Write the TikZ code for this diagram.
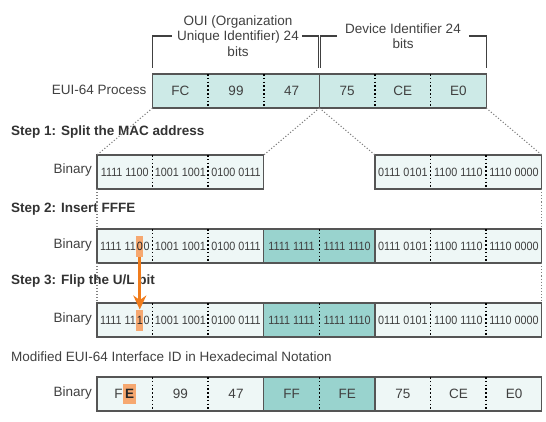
\documentclass[tikz,border=0pt]{standalone}
\usepackage{fontspec}
\setmainfont{Liberation Sans}
\newfontfamily\bitfam[FakeStretch=0.9]{Liberation Sans}
\usetikzlibrary{arrows.meta}
\definecolor{hexfill}{RGB}{205,234,231}
\definecolor{binfill}{RGB}{238,247,246}
\definecolor{fffefill}{RGB}{153,211,206}
\definecolor{framegray}{RGB}{85,85,85}
\definecolor{txtgray}{RGB}{64,64,64}
\definecolor{ulfill}{RGB}{246,168,112}
\definecolor{ulorange}{RGB}{240,124,28}
\newcommand{\lblfont}{\fontsize{13.5bp}{15.5bp}\selectfont}
\newcommand{\bitfont}{\bitfam\fontsize{12bp}{14bp}\selectfont}

\begin{document}
\begin{tikzpicture}[
    x=1bp, y=-1bp,
    cell/.style={minimum width=55.6bp, minimum height=34bp, inner sep=0pt, outer sep=0pt, text=txtgray},
    hexcell/.style={cell, font=\lblfont},
    bitcell/.style={cell, font=\bitfont},
    part/.style={inner sep=0pt, outer sep=0pt, text=txtgray},
    frame/.style={draw=framegray, line width=1.2bp},
    divider/.style={line width=1.5bp, dash pattern=on 1.5bp off 2.3bp},
    split/.style={draw=gray, line width=1.1bp, dash pattern=on 1.1bp off 2bp},
    lbl/.style={font=\lblfont, text=txtgray, inner sep=0pt},
    steplbl/.style={lbl, font=\lblfont\bfseries, text=black!80, anchor=west},
    rowlbl/.style={lbl, anchor=east},
    bracket/.style={draw=black!75, line width=1.2bp},
    ulbit/.style={fill=ulfill, inner xsep=0.5bp, inner ysep=0pt, outer sep=0pt, minimum height=21bp, text=black!85},
    flip/.style={draw=ulorange, line width=3.2bp, -{Stealth[length=14bp,width=13bp]}}
  ]
  \useasboundingbox (0,0) rectangle (546,421);

  % OUI / device brackets
  \node[lbl, align=center] (oui) at (238,36) {OUI (Organization\\Unique Identifier) 24\\bits};
  \node[lbl, align=center] (dev) at (403,36) {Device Identifier 24\\bits};

  % EUI-64 process row
  \node[hexcell, fill=hexfill] (t1) at (180.4,91) {FC};
  \node[hexcell, fill=hexfill] (t2) at (236.0,91) {99};
  \node[hexcell, fill=hexfill] (t3) at (291.6,91) {47};
  \node[hexcell, fill=hexfill] (t4) at (347.2,91) {75};
  \node[hexcell, fill=hexfill] (t5) at (402.8,91) {CE};
  \node[hexcell, fill=hexfill] (t6) at (458.4,91) {E0};
  \draw[frame] (t1.north west) rectangle (t6.south east);
  \draw[frame] (t3.north east) -- (t3.south east);
  \draw[divider] (t1.north east) -- (t1.south east);
  \draw[divider] (t2.north east) -- (t2.south east);
  \draw[divider] (t4.north east) -- (t4.south east);
  \draw[divider] (t5.north east) -- (t5.south east);
  \node[rowlbl] (lbl0) at ([xshift=-6bp,yshift=1.5bp]t1.west) {EUI-64 Process};

  \draw[bracket] ([xshift=-5bp]oui.west) -| ([yshift=6bp]t1.north west);
  \draw[bracket] ([xshift=3bp]oui.east) -| ([xshift=-1bp,yshift=6bp]t3.north east);
  \draw[bracket] ([xshift=-8bp]dev.west) -| ([xshift=1bp,yshift=6bp]t4.north west);
  \draw[bracket] ([xshift=8bp]dev.east) -| ([yshift=6bp]t6.north east);

  % step 1
  \node[steplbl] (s1) at (11,132) {Step 1: Split the MAC address};
  \node[bitcell, fill=binfill] (a1) at (124.8,172) {1111 1100};
  \node[bitcell, fill=binfill] (a2) at (180.4,172) {1001 1001};
  \node[bitcell, fill=binfill] (a3) at (236.0,172) {0100 0111};
  \node[bitcell, fill=binfill] (a6) at (402.8,172) {0111 0101};
  \node[bitcell, fill=binfill] (a7) at (458.4,172) {1100 1110};
  \node[bitcell, fill=binfill] (a8) at (514.0,172) {1110 0000};
  \draw[frame] (a1.north west) rectangle (a3.south east);
  \draw[frame] (a6.north west) rectangle (a8.south east);
  \draw[divider] (a1.north east) -- (a1.south east);
  \draw[divider] (a2.north east) -- (a2.south east);
  \draw[divider] (a6.north east) -- (a6.south east);
  \draw[divider] (a7.north east) -- (a7.south east);
  \node[rowlbl] (lbl1) at ([xshift=-5bp,yshift=1.5bp]a1.west) {Binary};

  % step 2
  \node[steplbl] (s2) at (11,209) {Step 2: Insert FFFE};
  \node[bitcell, fill=binfill] (b1) at (124.8,246) {};
  \node[bitcell, fill=binfill] (b2) at (180.4,246) {1001 1001};
  \node[bitcell, fill=binfill] (b3) at (236.0,246) {0100 0111};
  \node[bitcell, fill=fffefill] (b4) at (291.6,246) {1111 1111};
  \node[bitcell, fill=fffefill] (b5) at (347.2,246) {1111 1110};
  \node[bitcell, fill=binfill] (b6) at (402.8,246) {0111 0101};
  \node[bitcell, fill=binfill] (b7) at (458.4,246) {1100 1110};
  \node[bitcell, fill=binfill] (b8) at (514.0,246) {1110 0000};
  \draw[frame] (b1.north west) rectangle (b8.south east);
  \draw[frame] (b4.north west) rectangle (b5.south east);
  \draw[divider] (b1.north east) -- (b1.south east);
  \draw[divider] (b2.north east) -- (b2.south east);
  \draw[divider] (b4.north east) -- (b4.south east);
  \draw[divider] (b6.north east) -- (b6.south east);
  \draw[divider] (b7.north east) -- (b7.south east);
  \node[rowlbl] (lbl2) at ([xshift=-5bp,yshift=1.5bp]b1.west) {Binary};
  \node[ulbit, font=\bitfont] (ul2) at (139.8,246) {0};
  \node[part, font=\bitfont, anchor=east] (b1l) at ([xshift=-0.4bp]ul2.west) {1111 11};
  \node[part, font=\bitfont, anchor=west] (b1r) at ([xshift=0.4bp]ul2.east) {0};

  % step 3
  \node[steplbl] (s3) at (11,281) {Step 3: Flip the U/L bit};
  \node[bitcell, fill=binfill] (c1) at (124.8,320) {};
  \node[bitcell, fill=binfill] (c2) at (180.4,320) {1001 1001};
  \node[bitcell, fill=binfill] (c3) at (236.0,320) {0100 0111};
  \node[bitcell, fill=fffefill] (c4) at (291.6,320) {1111 1111};
  \node[bitcell, fill=fffefill] (c5) at (347.2,320) {1111 1110};
  \node[bitcell, fill=binfill] (c6) at (402.8,320) {0111 0101};
  \node[bitcell, fill=binfill] (c7) at (458.4,320) {1100 1110};
  \node[bitcell, fill=binfill] (c8) at (514.0,320) {1110 0000};
  \draw[frame] (c1.north west) rectangle (c8.south east);
  \draw[frame] (c4.north west) rectangle (c5.south east);
  \draw[divider] (c1.north east) -- (c1.south east);
  \draw[divider] (c2.north east) -- (c2.south east);
  \draw[divider] (c4.north east) -- (c4.south east);
  \draw[divider] (c6.north east) -- (c6.south east);
  \draw[divider] (c7.north east) -- (c7.south east);
  \node[rowlbl] (lbl3) at ([xshift=-5bp,yshift=1.5bp]c1.west) {Binary};
  \node[ulbit, font=\bitfont] (ul3) at (139.8,320) {1};
  \node[part, font=\bitfont, anchor=east] (c1l) at ([xshift=-0.4bp]ul3.west) {1111 11};
  \node[part, font=\bitfont, anchor=west] (c1r) at ([xshift=0.4bp]ul3.east) {0};

  % modified EUI-64 in hex
  \node[lbl, anchor=west] (s4) at (11,357) {Modified EUI-64 Interface ID in Hexadecimal Notation};
  \node[hexcell, fill=binfill] (d1) at (124.8,394) {};
  \node[hexcell, fill=binfill] (d2) at (180.4,394) {99};
  \node[hexcell, fill=binfill] (d3) at (236.0,394) {47};
  \node[hexcell, fill=fffefill] (d4) at (291.6,394) {FF};
  \node[hexcell, fill=fffefill] (d5) at (347.2,394) {FE};
  \node[hexcell, fill=binfill] (d6) at (402.8,394) {75};
  \node[hexcell, fill=binfill] (d7) at (458.4,394) {CE};
  \node[hexcell, fill=binfill] (d8) at (514.0,394) {E0};
  \draw[frame] (d1.north west) rectangle (d8.south east);
  \draw[frame] (d4.north west) rectangle (d5.south east);
  \draw[divider] (d1.north east) -- (d1.south east);
  \draw[divider] (d2.north east) -- (d2.south east);
  \draw[divider] (d4.north east) -- (d4.south east);
  \draw[divider] (d6.north east) -- (d6.south east);
  \draw[divider] (d7.north east) -- (d7.south east);
  \node[rowlbl] (lbl4) at ([xshift=-5bp,yshift=1.5bp]d1.west) {Binary};
  \node[ulbit, font=\lblfont\bfseries, inner xsep=2bp, minimum height=20bp] (ul4) at (129.5,394) {E};
  \node[part, font=\lblfont, anchor=east] (d1l) at ([xshift=-0.3bp]ul4.west) {F};

  % splitting guides
  \draw[split] (t1.south west) -- (a1.north west);
  \draw[split] (t3.south east) -- (a3.north east);
  \draw[split] (t4.south west) -- (a6.north west);
  \draw[split] (t6.south east) -- (a8.north east);
  \draw[split] (a1.south west) -- (b1.north west);
  \draw[split] (a8.south east) -- (b8.north east);
  \draw[split] (b1.south west) -- (c1.north west);
  \draw[split] (b8.south east) -- (c8.north east);

  % U/L bit flip
  \draw[flip] (ul2) -- (ul3);
\end{tikzpicture}
\end{document}
